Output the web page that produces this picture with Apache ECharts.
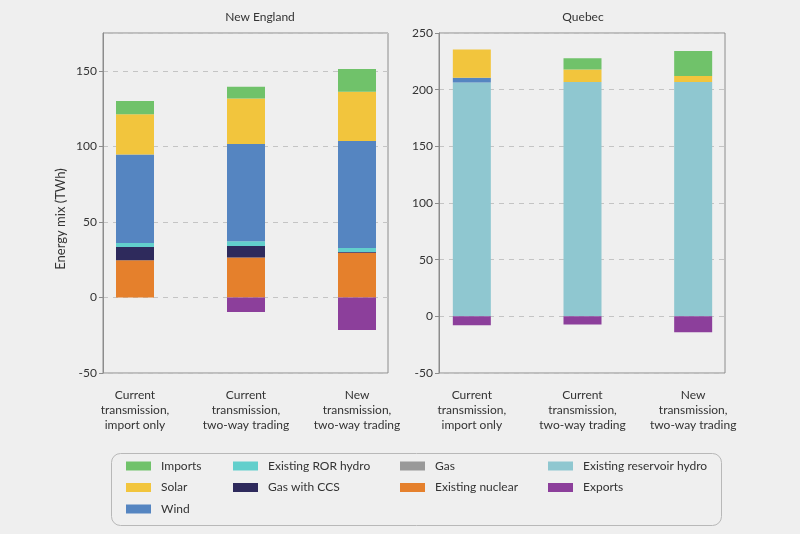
<!DOCTYPE html>
<html>
<head>
<meta charset="utf-8">
<title>Energy mix</title>
<script src="https://cdn.jsdelivr.net/npm/echarts@6/dist/echarts.min.js"></script>
<style>
  html, body { margin: 0; padding: 0; background: #efefef; }
  #chart { width: 800px; height: 534px; }
</style>
</head>
<body>
<div id="chart"></div>
<script>
// scenarios (x categories)
const categories = [
  'Current\ntransmission,\nimport only',
  'Current\ntransmission,\ntwo-way trading',
  'New\ntransmission,\ntwo-way trading'
];

// New England, TWh
const neReservoir = [0, 0, 0];
const neNuclear = [24.6, 26.4, 29.5];
const neGas = [0, 0, 0];
const neGasCcs = [8.8, 7.7, 0.6];
const neRor = [2.7, 3.1, 2.7];
const neWind = [58.5, 64.4, 70.8];
const neSolar = [26.6, 30.1, 32.5];
const neImports = [8.8, 7.7, 15.0];
const neExports = [0, -9.7, -21.6];

// Quebec, TWh
const qcReservoir = [206.4, 206.7, 206.7];
const qcNuclear = [0, 0, 0];
const qcGas = [0, 0, 0];
const qcGasCcs = [0, 0, 0];
const qcRor = [0, 0, 0];
const qcWind = [4.1, 0, 0];
const qcSolar = [24.9, 11.1, 5.3];
const qcImports = [0, 9.9, 22.2];
const qcExports = [-7.9, -7.3, -14.0];

const neTicks = { min: -50, max: 175, interval: 50 };
const qcTicks = { min: -50, max: 250, interval: 50 };

// stacking order bottom -> top
const sources = [
  { name: 'Existing reservoir hydro', color: '#8fc7d0', ne: neReservoir, qc: qcReservoir },
  { name: 'Existing nuclear', color: '#e5802c', ne: neNuclear, qc: qcNuclear },
  { name: 'Gas', color: '#999999', ne: neGas, qc: qcGas },
  { name: 'Gas with CCS', color: '#2e2a5c', ne: neGasCcs, qc: qcGasCcs },
  { name: 'Existing ROR hydro', color: '#62cfcc', ne: neRor, qc: qcRor },
  { name: 'Wind', color: '#5585c1', ne: neWind, qc: qcWind },
  { name: 'Solar', color: '#f2c53d', ne: neSolar, qc: qcSolar },
  { name: 'Imports', color: '#70c26a', ne: neImports, qc: qcImports },
  { name: 'Exports', color: '#8c3f9b', ne: neExports, qc: qcExports }
];

const legendCols = [
  ['Imports', 'Solar', 'Wind'],
  ['Existing ROR hydro', 'Gas with CCS'],
  ['Gas', 'Existing nuclear'],
  ['Existing reservoir hydro', 'Exports']
];
const legendLefts = [126, 233, 400, 548];

const FONT = 'Lato';
const TXT = '#333333';
const LINE = '#8c8c8c';

const chart = echarts.init(document.getElementById('chart'));

const series = [];
sources.forEach(s => {
  series.push({
    name: s.name, type: 'bar', stack: 'ne',
    xAxisIndex: 1, yAxisIndex: 1,
    barWidth: 38,
    itemStyle: { color: s.color },
    data: s.ne
  });
  series.push({
    name: s.name, type: 'bar', stack: 'qc',
    xAxisIndex: 3, yAxisIndex: 3,
    barWidth: 38,
    itemStyle: { color: s.color },
    data: s.qc
  });
});

const frameY = (t, grid) => ({
  type: 'value', gridIndex: grid,
  min: t.min, max: t.max, interval: t.interval,
  axisLine: { show: true, lineStyle: { color: LINE, width: 1 } },
  axisTick: { show: true, length: 4, lineStyle: { color: LINE } },
  axisLabel: { fontFamily: FONT, fontSize: 12, color: TXT, margin: 6, showMaxLabel: t.max % t.interval === 0 },
  splitLine: { show: true, lineStyle: { color: '#c4c4c4', type: [5, 5], width: 1 } }
});
const barY = (t, grid) => ({
  type: 'value', gridIndex: grid,
  min: t.min, max: t.max, interval: t.interval,
  axisLine: { show: false }, axisTick: { show: false },
  axisLabel: { show: false }, splitLine: { show: false }
});
const frameX = grid => ({
  type: 'category', gridIndex: grid, data: categories,
  axisLine: { show: false },
  axisTick: { show: false }, axisLabel: { show: false }
});
const barX = grid => ({
  type: 'category', gridIndex: grid, data: categories,
  axisLine: { show: false }, axisTick: { show: false },
  axisLabel: { fontFamily: FONT, fontSize: 12, color: TXT, lineHeight: 15, margin: 15, interval: 0 }
});

chart.setOption({
  backgroundColor: '#efefef',
  animation: false,
  textStyle: { fontFamily: FONT },
  title: [
    { text: 'New England', left: 255, top: 6, textAlign: 'center',
      textStyle: { fontFamily: FONT, fontSize: 12, fontWeight: 'normal', color: TXT } },
    { text: 'Quebec', left: 578, top: 6, textAlign: 'center',
      textStyle: { fontFamily: FONT, fontSize: 12, fontWeight: 'normal', color: TXT } }
  ],
  grid: [
    { left: 103, top: 33, width: 285, height: 340, show: true, borderColor: LINE, borderWidth: 1, backgroundColor: 'transparent' },
    { left: 79.5, top: 33, width: 333, height: 340 },
    { left: 439, top: 33, width: 286, height: 340, show: true, borderColor: LINE, borderWidth: 1, backgroundColor: 'transparent' },
    { left: 416.5, top: 33, width: 332, height: 340 }
  ],
  xAxis: [frameX(0), barX(1), frameX(2), barX(3)],
  yAxis: [frameY(neTicks, 0), barY(neTicks, 1), frameY(qcTicks, 2), barY(qcTicks, 3)],
  legend: legendCols.map((col, i) => ({
    data: col,
    orient: 'vertical',
    left: legendLefts[i],
    top: 459,
    padding: 0,
    icon: 'rect',
    itemWidth: 25, itemHeight: 9,
    itemGap: 7.5,
    selectedMode: false,
    textStyle: { fontFamily: FONT, fontSize: 12, color: TXT, lineHeight: 14, padding: [0, 0, 0, 5] }
  })),
  graphic: [
    {
      type: 'rect',
      left: 109, top: 451,
      shape: { width: 610, height: 72, r: 9 },
      style: { fill: 'none', stroke: '#b8b8b8', lineWidth: 1 },
      silent: true
    },
    {
      type: 'text',
      x: 61, y: 219,
      rotation: Math.PI / 2,
      style: {
        text: 'Energy mix (TWh)', fontFamily: FONT, fontSize: 13, fill: TXT,
        align: 'center', verticalAlign: 'middle'
      },
      silent: true
    }
  ],
  series: series
});
</script>
</body>
</html>
